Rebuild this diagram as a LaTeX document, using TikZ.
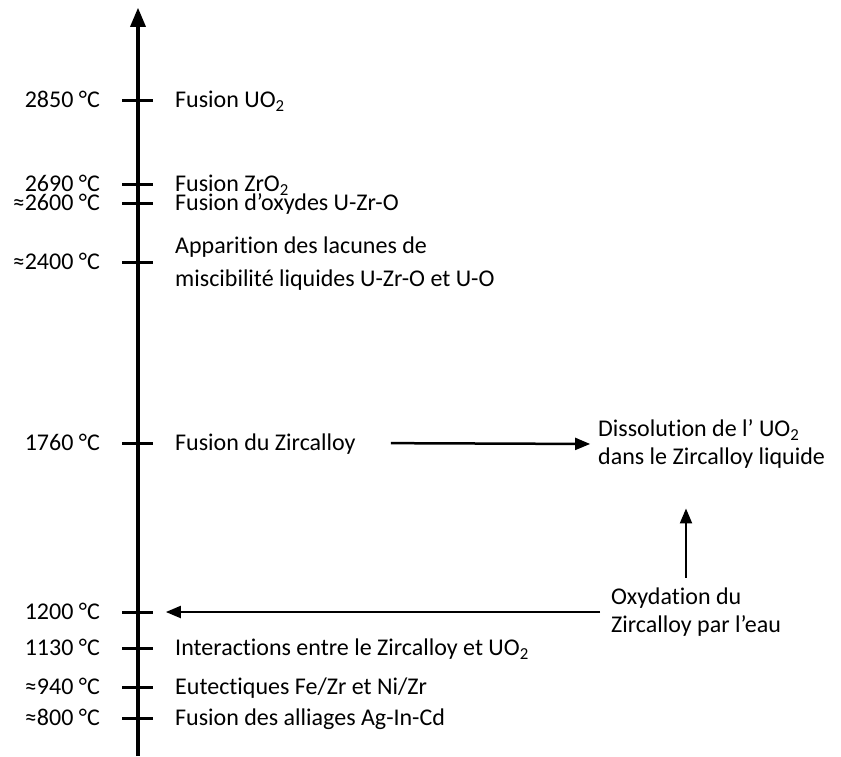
\documentclass[tikz,border=0pt]{standalone}
\usepackage{fontspec}
\setmainfont{Carlito}[Ligatures=NoCommon]
\usetikzlibrary{arrows}

\begin{document}
\begin{tikzpicture}[x=1pt,y=-1pt,>=triangle 45,font=\fontsize{24}{28}\selectfont,
  temp/.style={anchor=east,inner sep=0pt,text height=15pt,text depth=0pt},
  event/.style={anchor=west,inner sep=0pt,text height=15pt,text depth=0pt},
  note/.style={anchor=west,align=left,inner sep=0pt},
  tick/.style={line width=3pt}]
      \useasboundingbox (0,0) rectangle (841,756);
      \draw [->, line width=3.5pt] (138,756) -- (138,8); % temperature axis
      \foreach \y/\t in {100/2850 °C, 184/2690 °C, 203/≈2600 °C, 262/≈2400 °C,
          443/1760 °C, 612/1200 °C, 648/1130 °C, 687/≈940 °C, 718/≈800 °C}
        {\draw [tick] (122,\y) -- (153,\y);
         \node [temp] (t\y) at (100,\y) {\t};}
      \node [event] (uo2) at (175,100) {Fusion UO\textsubscript{2}};
      \node [event] (zro2) at (175,184) {Fusion ZrO\textsubscript{2}};
      \node [event] (uzro) at (175,203) {Fusion d’oxydes U-Zr-O};
      \node [note] (lac) at (175,264) {Apparition des lacunes de\\[5pt]miscibilité liquides U-Zr-O et U-O};
      \node [event] (zirc) at (175,443) {Fusion du Zircalloy};
      \node [event] (inter) at (175,648) {Interactions entre le Zircalloy et UO\textsubscript{2}};
      \node [event] (eut) at (175,687) {Eutectiques Fe/Zr et Ni/Zr};
      \node [event] (agin) at (175,718) {Fusion des alliages Ag-In-Cd};
      \node [note] (diss) at (598,444) {Dissolution de l’ UO\textsubscript{2}\\dans le Zircalloy liquide};
      \node [note] (oxy) at (611,612) {Oxydation du\\Zircalloy par l’eau};
      \coordinate (c1200) at (166,612);
      \draw [->, line width=2.5pt, shorten <=35pt, shorten >=8pt] (zirc.east) -- (diss.west); % melt -> dissolution
      \draw [->, line width=2.5pt, shorten <=10pt, shorten >=40pt] (oxy.north -| 686,0) -- (diss.south -| 686,0); % oxidation -> dissolution
      \draw [->, line width=2.5pt, shorten <=11pt] (oxy.west) -- (c1200); % oxidation -> 1200
    \end{tikzpicture}
\end{document}
